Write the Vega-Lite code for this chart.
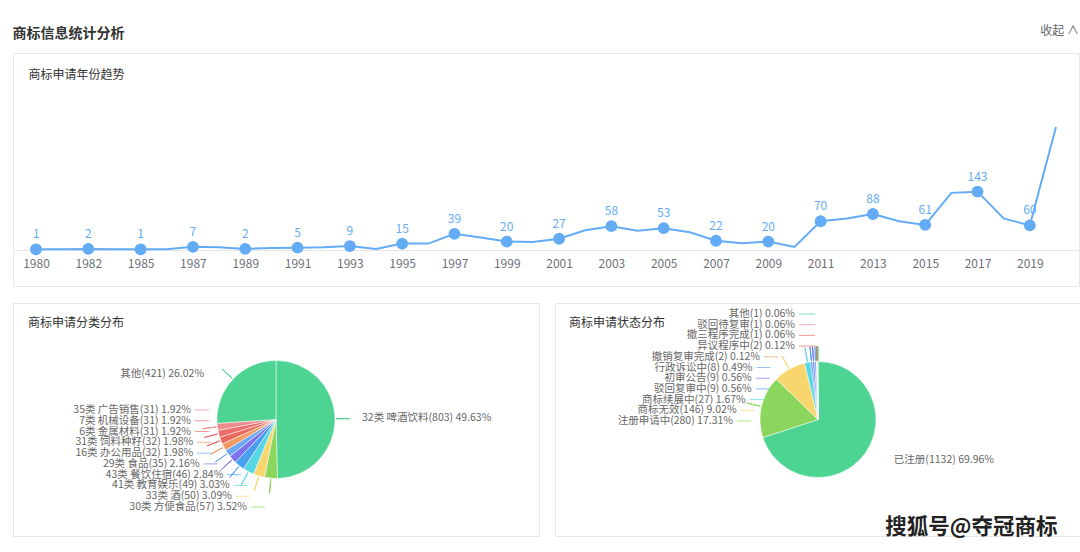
{
  "$schema": "https://vega.github.io/schema/vega-lite/v6.json",
  "padding": {"left": 12, "top": 24, "right": 2, "bottom": 0},
  "background": "white",
  "config": {
    "font": "Noto Sans CJK SC",
    "view": {"stroke": "#e8e8e8", "strokeWidth": 1}
  },
  "title": {"text": "商标信息统计分析", "anchor": "start", "frame": "bounds", "fontSize": 14, "fontWeight": "bold", "color": "#333333", "offset": -16},
  "datasets": {
    "trend": [
      {"year": "1980", "count": 1}, {"year": "1981", "count": 1}, {"year": "1982", "count": 2}, {"year": "1984", "count": 1},
      {"year": "1985", "count": 1}, {"year": "1986", "count": 1}, {"year": "1987", "count": 7}, {"year": "1988", "count": 6},
      {"year": "1989", "count": 2}, {"year": "1990", "count": 4}, {"year": "1991", "count": 5}, {"year": "1992", "count": 6},
      {"year": "1993", "count": 9}, {"year": "1994", "count": 2}, {"year": "1995", "count": 15}, {"year": "1996", "count": 15},
      {"year": "1997", "count": 39}, {"year": "1998", "count": 30}, {"year": "1999", "count": 20}, {"year": "2000", "count": 19},
      {"year": "2001", "count": 27}, {"year": "2002", "count": 48}, {"year": "2003", "count": 58}, {"year": "2004", "count": 47},
      {"year": "2005", "count": 53}, {"year": "2006", "count": 43}, {"year": "2007", "count": 22}, {"year": "2008", "count": 16},
      {"year": "2009", "count": 20}, {"year": "2010", "count": 7}, {"year": "2011", "count": 70}, {"year": "2012", "count": 77},
      {"year": "2013", "count": 88}, {"year": "2014", "count": 70}, {"year": "2015", "count": 61}, {"year": "2016", "count": 140},
      {"year": "2017", "count": 143}, {"year": "2018", "count": 77}, {"year": "2019", "count": 60}, {"year": "2020", "count": 302}
    ],
    "cat": [
      {"k": 1, "name": "32类 啤酒饮料", "count": 803, "label": "32类 啤酒饮料(803) 49.63%"},
      {"k": 2, "name": "30类 方便食品", "count": 57, "label": "30类 方便食品(57) 3.52%"},
      {"k": 3, "name": "33类 酒", "count": 50, "label": "33类 酒(50) 3.09%"},
      {"k": 4, "name": "41类 教育娱乐", "count": 49, "label": "41类 教育娱乐(49) 3.03%"},
      {"k": 5, "name": "43类 餐饮住宿", "count": 46, "label": "43类 餐饮住宿(46) 2.84%"},
      {"k": 6, "name": "29类 食品", "count": 35, "label": "29类 食品(35) 2.16%"},
      {"k": 7, "name": "16类 办公用品", "count": 32, "label": "16类 办公用品(32) 1.98%"},
      {"k": 8, "name": "31类 饲料种籽", "count": 32, "label": "31类 饲料种籽(32) 1.98%"},
      {"k": 9, "name": "6类 金属材料", "count": 31, "label": "6类 金属材料(31) 1.92%"},
      {"k": 10, "name": "7类 机械设备", "count": 31, "label": "7类 机械设备(31) 1.92%"},
      {"k": 11, "name": "35类 广告销售", "count": 31, "label": "35类 广告销售(31) 1.92%"},
      {"k": 12, "name": "其他", "count": 421, "label": "其他(421) 26.02%"}
    ],
    "status": [
      {"k": 1, "name": "已注册", "count": 1132, "label": "已注册(1132) 69.96%"},
      {"k": 2, "name": "注册申请中", "count": 280, "label": "注册申请中(280) 17.31%"},
      {"k": 3, "name": "商标无效", "count": 146, "label": "商标无效(146) 9.02%"},
      {"k": 4, "name": "商标续展中", "count": 27, "label": "商标续展中(27) 1.67%"},
      {"k": 5, "name": "驳回复审中", "count": 9, "label": "驳回复审中(9) 0.56%"},
      {"k": 6, "name": "初审公告", "count": 9, "label": "初审公告(9) 0.56%"},
      {"k": 7, "name": "行政诉讼中", "count": 8, "label": "行政诉讼中(8) 0.49%"},
      {"k": 8, "name": "撤销复审完成", "count": 2, "label": "撤销复审完成(2) 0.12%"},
      {"k": 9, "name": "异议程序中", "count": 2, "label": "异议程序中(2) 0.12%"},
      {"k": 10, "name": "撤三程序完成", "count": 1, "label": "撤三程序完成(1) 0.06%"},
      {"k": 11, "name": "驳回待复审", "count": 1, "label": "驳回待复审(1) 0.06%"},
      {"k": 12, "name": "其他", "count": 1, "label": "其他(1) 0.06%"}
    ]
  },
  "spacing": 15,
  "resolve": {"scale": {"color": "independent", "theta": "independent"}},
  "vconcat": [
    {
      "width": 1066,
      "height": 233,
      "data": {"name": "trend"},
      "title": {"text": "收起 ∧", "anchor": "end", "fontSize": 12, "fontWeight": "normal", "color": "#666666", "offset": 15},
      "encoding": {
        "x": {
          "field": "year", "type": "ordinal", "sort": null,
          "scale": {"type": "point", "padding": 0.88},
          "axis": {
            "values": ["1980", "1982", "1985", "1987", "1989", "1991", "1993", "1995", "1997", "1999", "2001", "2003", "2005", "2007", "2009", "2011", "2013", "2015", "2017", "2019"],
            "title": null, "offset": -36, "domainColor": "#e4e6ea", "ticks": false, "tickSize": 0,
            "labelPadding": 8, "labelFontSize": 12, "labelColor": "#6e7079", "labelAngle": 0, "grid": false
          }
        },
        "y": {
          "field": "count", "type": "quantitative",
          "scale": {"domain": [-89.4, 484.5], "nice": false, "zero": false},
          "axis": {
            "title": "商标申请年份趋势", "domain": false, "ticks": false, "labels": false, "grid": false,
            "titleAngle": 0, "titleX": 15, "titleY": 21, "titleAlign": "left", "titleBaseline": "middle",
            "titleFontSize": 12, "titleFontWeight": "normal", "titleColor": "#333333", "minExtent": 0, "maxExtent": 0
          }
        }
      },
      "layer": [
        {"mark": {"type": "line", "color": "#63acf5", "strokeWidth": 2}},
        {
          "transform": [{"filter": {"field": "year", "oneOf": ["1980", "1982", "1985", "1987", "1989", "1991", "1993", "1995", "1997", "1999", "2001", "2003", "2005", "2007", "2009", "2011", "2013", "2015", "2017", "2019"]}}],
          "mark": {"type": "point", "filled": true, "size": 140, "color": "#63acf5", "opacity": 1}
        },
        {
          "transform": [{"filter": {"field": "year", "oneOf": ["1980", "1982", "1985", "1987", "1989", "1991", "1993", "1995", "1997", "1999", "2001", "2003", "2005", "2007", "2009", "2011", "2013", "2015", "2017", "2019"]}}],
          "mark": {"type": "text", "color": "#63acf5", "fontSize": 12, "baseline": "bottom", "dy": -8},
          "encoding": {"text": {"field": "count", "type": "quantitative"}}
        }
      ]
    },
    {
      "spacing": 14,
      "resolve": {"scale": {"color": "independent", "theta": "independent", "x": "independent", "y": "independent"}},
      "title": {"text": "搜狐号@夺冠商标", "orient": "bottom", "anchor": "end", "fontSize": 21.5, "fontWeight": "bold", "color": "#222222", "offset": -20, "dx": -24},
      "hconcat": [
        {
          "width": 526,
          "height": 233,
          "data": {"name": "cat"},
          "title": {"text": "商标申请分类分布", "anchor": "start", "fontSize": 12, "fontWeight": "normal", "color": "#333333", "offset": -27, "dx": 15},
          "resolve": {"scale": {"x": "independent", "y": "independent"}},
          "layer": [
            {
              "mark": {"type": "arc", "outerRadius": 59, "stroke": "#ffffff", "strokeWidth": 0.5},
              "encoding": {
                "theta": {"field": "count", "type": "quantitative", "stack": true},
                "order": {"field": "k", "type": "quantitative"},
                "color": {"field": "label", "type": "nominal", "legend": null,
                  "scale": {"domain": ["32类 啤酒饮料(803) 49.63%", "30类 方便食品(57) 3.52%", "33类 酒(50) 3.09%", "41类 教育娱乐(49) 3.03%", "43类 餐饮住宿(46) 2.84%", "29类 食品(35) 2.16%", "16类 办公用品(32) 1.98%", "31类 饲料种籽(32) 1.98%", "6类 金属材料(31) 1.92%", "7类 机械设备(31) 1.92%", "35类 广告销售(31) 1.92%", "其他(421) 26.02%"],
                    "range": ["#4dd493", "#8bd65c", "#f9d56e", "#57d7e5", "#48a0ef", "#7c72f0", "#6aaaf4", "#ef9c62", "#ea6b5d", "#ec6d6d", "#ef8b8b", "#4dd493"]}}
              }
            },
            {
              "mark": {"type": "arc", "filled": false, "innerRadius": 60, "outerRadius": 74, "padAngle": 3, "strokeWidth": 1},
              "encoding": {
                "theta": {"field": "count", "type": "quantitative", "stack": true},
                "order": {"field": "k", "type": "quantitative"},
                "color": {"field": "label", "type": "nominal", "legend": null}
              }
            },
            {
              "mark": {"type": "text", "radius": 86, "align": "left", "baseline": "middle", "fontSize": 10.5, "color": "#666666"},
              "encoding": {
                "theta": {"field": "count", "type": "quantitative", "stack": true},
                "order": {"field": "k", "type": "quantitative"},
                "text": {"condition": {"test": "datum.k === 1", "field": "label"}, "value": ""}
              }
            },
            {
              "mark": {"type": "text", "radius": 67, "align": "right", "baseline": "middle", "fontSize": 10.5, "color": "#666666", "dx": -23},
              "encoding": {
                "theta": {"field": "count", "type": "quantitative", "stack": true},
                "order": {"field": "k", "type": "quantitative"},
                "text": {"condition": {"test": "datum.k === 12", "field": "label"}, "value": ""}
              }
            },
            {
              "transform": [{"filter": {"field": "k", "range": [2, 11]}}],
              "mark": {"type": "text", "align": "right", "baseline": "middle", "fontSize": 10.5, "color": "#666666"},
              "encoding": {
                "y": {"field": "label", "type": "nominal", "axis": null,
                  "scale": {"type": "point", "padding": 0, "range": [107, 204],
                    "domain": ["35类 广告销售(31) 1.92%", "7类 机械设备(31) 1.92%", "6类 金属材料(31) 1.92%", "31类 饲料种籽(32) 1.98%", "16类 办公用品(32) 1.98%", "29类 食品(35) 2.16%", "43类 餐饮住宿(46) 2.84%", "41类 教育娱乐(49) 3.03%", "33类 酒(50) 3.09%", "30类 方便食品(57) 3.52%"]}},
                "x": {"field": "count", "type": "quantitative", "axis": null, "scale": {"domain": [31, 57], "range": [178, 234], "zero": false, "nice": false}},
                "text": {"field": "label"}
              }
            },
            {
              "transform": [{"filter": {"field": "k", "range": [2, 11]}}],
              "mark": {"type": "tick", "orient": "horizontal", "size": 14, "thickness": 1},
              "encoding": {
                "y": {"field": "label", "type": "nominal", "axis": null,
                  "scale": {"type": "point", "padding": 0, "range": [107, 204],
                    "domain": ["35类 广告销售(31) 1.92%", "7类 机械设备(31) 1.92%", "6类 金属材料(31) 1.92%", "31类 饲料种籽(32) 1.98%", "16类 办公用品(32) 1.98%", "29类 食品(35) 2.16%", "43类 餐饮住宿(46) 2.84%", "41类 教育娱乐(49) 3.03%", "33类 酒(50) 3.09%", "30类 方便食品(57) 3.52%"]}},
                "x": {"field": "count", "type": "quantitative", "axis": null, "scale": {"domain": [31, 57], "range": [189, 245], "zero": false, "nice": false}},
                "color": {"field": "label", "type": "nominal", "legend": null}
              }
            }
          ]
        },
        {
          "width": 526,
          "height": 233,
          "data": {"name": "status"},
          "title": {"text": "商标申请状态分布", "anchor": "start", "fontSize": 12, "fontWeight": "normal", "color": "#333333", "offset": -27, "dx": 14},
          "resolve": {"scale": {"x": "independent", "y": "independent"}},
          "layer": [
            {
              "mark": {"type": "arc", "outerRadius": 58, "stroke": "#ffffff", "strokeWidth": 0.5},
              "encoding": {
                "theta": {"field": "count", "type": "quantitative", "stack": true},
                "order": {"field": "k", "type": "quantitative"},
                "color": {"field": "label", "type": "nominal", "legend": null,
                  "scale": {"domain": ["已注册(1132) 69.96%", "注册申请中(280) 17.31%", "商标无效(146) 9.02%", "商标续展中(27) 1.67%", "驳回复审中(9) 0.56%", "初审公告(9) 0.56%", "行政诉讼中(8) 0.49%", "撤销复审完成(2) 0.12%", "异议程序中(2) 0.12%", "撤三程序完成(1) 0.06%", "驳回待复审(1) 0.06%", "其他(1) 0.06%"],
                    "range": ["#4dd493", "#8bd65c", "#f9d56e", "#57d7e5", "#48a0ef", "#7c72f0", "#6aaaf4", "#ef9c62", "#ea6b5d", "#ec6d6d", "#ef8b8b", "#4dd493"]}}
              }
            },
            {
              "mark": {"type": "arc", "filled": false, "innerRadius": 59, "outerRadius": 73, "padAngle": 3, "strokeWidth": 1},
              "encoding": {
                "theta": {"field": "count", "type": "quantitative", "stack": true},
                "order": {"field": "k", "type": "quantitative"},
                "color": {"field": "label", "type": "nominal", "legend": null},
                "strokeOpacity": {"condition": {"test": "datum.k === 1", "value": 0}, "value": 1}
              }
            },
            {
              "mark": {"type": "text", "radius": 69, "align": "left", "baseline": "middle", "fontSize": 10.5, "color": "#666666", "dx": 20},
              "encoding": {
                "theta": {"field": "count", "type": "quantitative", "stack": true},
                "order": {"field": "k", "type": "quantitative"},
                "text": {"condition": {"test": "datum.k === 1", "field": "label"}, "value": ""}
              }
            },
            {
              "transform": [{"filter": {"field": "k", "range": [9, 12]}}],
              "mark": {"type": "text", "align": "right", "baseline": "middle", "fontSize": 10.5, "color": "#666666"},
              "encoding": {
                "y": {"field": "label", "type": "nominal", "axis": null,
                  "scale": {"type": "point", "padding": 0, "range": [11, 118],
                    "domain": ["其他(1) 0.06%", "驳回待复审(1) 0.06%", "撤三程序完成(1) 0.06%", "异议程序中(2) 0.12%", "撤销复审完成(2) 0.12%", "行政诉讼中(8) 0.49%", "初审公告(9) 0.56%", "驳回复审中(9) 0.56%", "商标续展中(27) 1.67%", "商标无效(146) 9.02%", "注册申请中(280) 17.31%"]}},
                "x": {"value": 240},
                "text": {"field": "label"}
              }
            },
            {
              "transform": [{"filter": {"field": "k", "range": [9, 12]}}],
              "mark": {"type": "tick", "orient": "horizontal", "size": 16, "thickness": 1},
              "encoding": {
                "y": {"field": "label", "type": "nominal", "axis": null,
                  "scale": {"type": "point", "padding": 0, "range": [11, 118],
                    "domain": ["其他(1) 0.06%", "驳回待复审(1) 0.06%", "撤三程序完成(1) 0.06%", "异议程序中(2) 0.12%", "撤销复审完成(2) 0.12%", "行政诉讼中(8) 0.49%", "初审公告(9) 0.56%", "驳回复审中(9) 0.56%", "商标续展中(27) 1.67%", "商标无效(146) 9.02%", "注册申请中(280) 17.31%"]}},
                "x": {"value": 252},
                "color": {"field": "label", "type": "nominal", "legend": null}
              }
            },
            {
              "transform": [{"filter": {"field": "k", "range": [2, 8]}}],
              "mark": {"type": "text", "align": "right", "baseline": "middle", "fontSize": 10.5, "color": "#666666"},
              "encoding": {
                "y": {"field": "label", "type": "nominal", "axis": null,
                  "scale": {"type": "point", "padding": 0, "range": [11, 118],
                    "domain": ["其他(1) 0.06%", "驳回待复审(1) 0.06%", "撤三程序完成(1) 0.06%", "异议程序中(2) 0.12%", "撤销复审完成(2) 0.12%", "行政诉讼中(8) 0.49%", "初审公告(9) 0.56%", "驳回复审中(9) 0.56%", "商标续展中(27) 1.67%", "商标无效(146) 9.02%", "注册申请中(280) 17.31%"]}},
                "x": {"field": "count", "type": "quantitative", "axis": null, "scale": {"type": "log", "domain": [2, 280], "range": [205, 178], "nice": false}},
                "text": {"field": "label"}
              }
            },
            {
              "transform": [{"filter": {"field": "k", "range": [2, 8]}}],
              "mark": {"type": "tick", "orient": "horizontal", "size": 14, "thickness": 1},
              "encoding": {
                "y": {"field": "label", "type": "nominal", "axis": null,
                  "scale": {"type": "point", "padding": 0, "range": [11, 118],
                    "domain": ["其他(1) 0.06%", "驳回待复审(1) 0.06%", "撤三程序完成(1) 0.06%", "异议程序中(2) 0.12%", "撤销复审完成(2) 0.12%", "行政诉讼中(8) 0.49%", "初审公告(9) 0.56%", "驳回复审中(9) 0.56%", "商标续展中(27) 1.67%", "商标无效(146) 9.02%", "注册申请中(280) 17.31%"]}},
                "x": {"field": "count", "type": "quantitative", "axis": null, "scale": {"type": "log", "domain": [2, 280], "range": [216, 189], "nice": false}},
                "color": {"field": "label", "type": "nominal", "legend": null}
              }
            }
          ]
        }
      ]
    }
  ]
}
